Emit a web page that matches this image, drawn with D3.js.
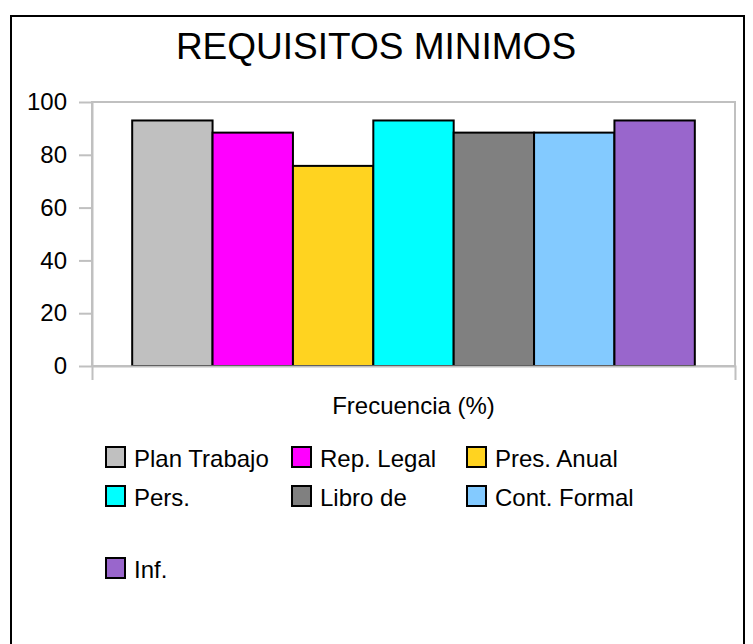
<!DOCTYPE html>
<html>
<head>
<meta charset="utf-8">
<script src="https://cdn.jsdelivr.net/npm/d3@7"></script>
<style>
  body { margin: 0; background: #fff; }
  text { font-family: "Liberation Sans", Arial, sans-serif; }
</style>
</head>
<body>
<script>
// data
var categories = ["Frecuencia (%)"];
var seriesNames = ["Plan Trabajo", "Rep. Legal", "Pres. Anual", "Pers.", "Libro de", "Cont. Formal", "Inf."];
var seriesValues = [93, 88.4, 75.8, 93, 88.4, 88.4, 93];
var seriesColors = ["#c0c0c0", "#ff00ff", "#ffd320", "#00ffff", "#808080", "#83caff", "#9966cc"];
var yTicks = [0, 20, 40, 60, 80, 100];

var width = 753, height = 644;
var plot = { left: 92, right: 735, top: 102, bottom: 366 };

var svg = d3.select("body").append("svg")
    .attr("width", width)
    .attr("height", height);

// chart frame (runs past the bottom of the picture)
svg.append("rect")
    .attr("x", 11).attr("y", 16)
    .attr("width", 733).attr("height", 700)
    .attr("fill", "none")
    .attr("stroke", "#000")
    .attr("stroke-width", 2);

// titel
svg.append("text")
    .attr("x", 376).attr("y", 59)
    .attr("text-anchor", "middle")
    .style("font-size", "37px")
    .text("REQUISITOS MINIMOS");

var x0 = d3.scaleBand()
    .domain(categories)
    .range([plot.left, plot.right])
    .paddingInner(0)
    .paddingOuter(1 / 14);

var x1 = d3.scaleBand()
    .domain(seriesNames)
    .range([0, x0.bandwidth()]);

var y = d3.scaleLinear()
    .domain([0, 100])
    .range([plot.bottom, plot.top]);

// plot area border
svg.append("rect")
    .attr("x", plot.left).attr("y", plot.top)
    .attr("width", plot.right - plot.left)
    .attr("height", plot.bottom - plot.top)
    .attr("fill", "none")
    .attr("stroke", "#c0c0c0")
    .attr("stroke-width", 2);

// staplar
var group = svg.append("g")
    .selectAll("g").data(categories).enter()
    .append("g")
    .attr("transform", function(d) { return "translate(" + x0(d) + ",0)"; });

group.selectAll("rect")
    .data(seriesNames.map(function(n, i) { return { name: n, value: seriesValues[i], color: seriesColors[i] }; }))
    .enter().append("rect")
    .attr("x", function(d) { return x1(d.name); })
    .attr("y", function(d) { return y(d.value); })
    .attr("width", x1.bandwidth())
    .attr("height", function(d) { return y(0) - y(d.value); })
    .attr("fill", function(d) { return d.color; })
    .attr("stroke", "#000")
    .attr("stroke-width", 2);

// y axis
var yAxis = svg.append("g")
    .attr("transform", "translate(" + plot.left + ",0)")
    .call(d3.axisLeft(y).tickValues(yTicks).tickSize(13).tickSizeOuter(0).tickPadding(12));

// x axis, category name as tick label
var xAxis = svg.append("g")
    .attr("transform", "translate(0," + plot.bottom + ")")
    .call(d3.axisBottom(x0).tickSizeInner(0).tickSizeOuter(14).tickPadding(31));

[yAxis, xAxis].forEach(function(ax) {
    ax.selectAll("path, line").attr("stroke", "#c0c0c0").attr("stroke-width", 2);
    ax.selectAll("text")
        .attr("fill", "#000")
        .style("font-family", "'Liberation Sans', Arial, sans-serif")
        .style("font-size", "24px");
});

// legend
var legendCols = [106, 292, 467];
var legendRows = [467, 506, 578]; // baselines
var legend = svg.append("g").selectAll("g")
    .data(seriesNames).enter()
    .append("g")
    .attr("transform", function(d, i) {
        return "translate(" + legendCols[i % 3] + "," + legendRows[Math.floor(i / 3)] + ")";
    });

legend.append("rect")
    .attr("x", 0).attr("y", -20)
    .attr("width", 19).attr("height", 20)
    .attr("fill", function(d, i) { return seriesColors[i]; })
    .attr("stroke", "#000")
    .attr("stroke-width", 2);

legend.append("text")
    .attr("x", 28).attr("y", 0)
    .style("font-size", "24px")
    .text(function(d) { return d; });
</script>
</body>
</html>
